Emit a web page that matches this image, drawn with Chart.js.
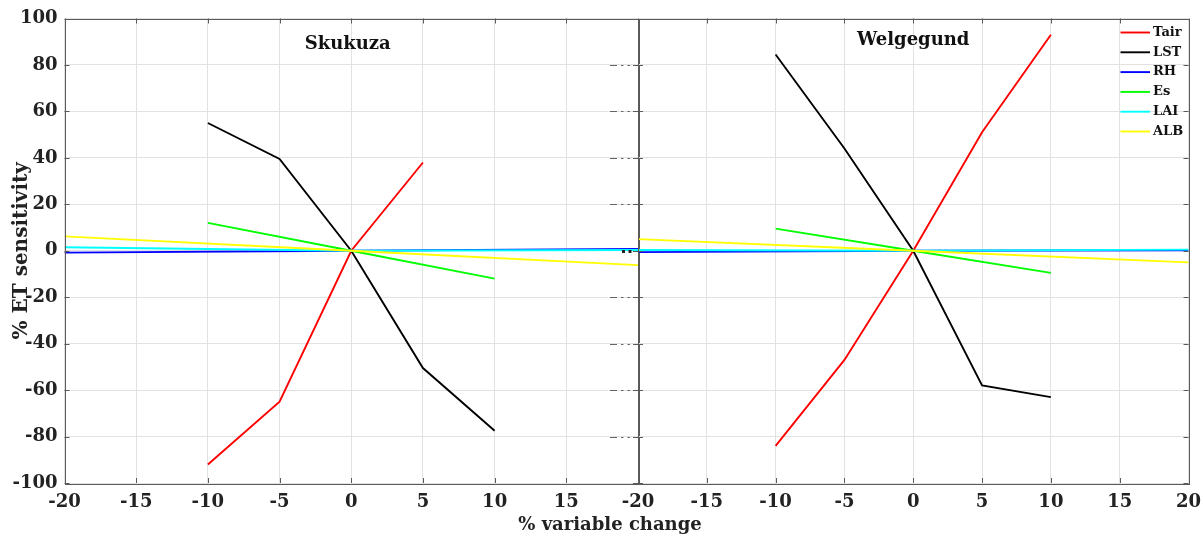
<!DOCTYPE html>
<html><head><meta charset="utf-8">
<script src="https://cdn.jsdelivr.net/npm/chart.js@4.4.0/dist/chart.umd.min.js"></script>
<style>
html,body{margin:0;padding:0;background:#fff;}
#wrap{position:relative;width:1203px;height:536px;overflow:hidden;background:#fff;}
canvas{position:absolute;top:0;}
#c1{left:0;}
#c2{left:600px;}
#xt{position:absolute;left:410px;width:400px;top:512px;text-align:center;font:bold 18px "DejaVu Serif";color:#222;line-height:24px;white-space:nowrap;}
</style></head>
<body>
<div id="wrap">
<canvas id="c1" width="700" height="536" style="width:700px;height:536px"></canvas>
<canvas id="c2" width="660" height="536" style="width:660px;height:536px"></canvas>
<div id="xt">% variable change</div>
</div>
<script>
// ---- data ----
const seriesNames  = ['Tair','LST','RH','Es','LAI','ALB'];
const seriesColors = ['#ff0000','#000000','#0000ff','#00ff00','#00ffff','#ffff00'];
const xTicks = [-20,-15,-10,-5,0,5,10,15,20];
const yTicks = [-100,-80,-60,-40,-20,0,20,40,60,80,100];
const panelTitles = ['Skukuza','Welgegund'];

// Skukuza
const skTairX = [-10,-5,0,5];        const skTairY = [-92,-65,0,38];
const skLstX  = [-10,-5,0,5,10];     const skLstY  = [55,39.5,0,-50.5,-77.5];
const skRhX   = [-20,0,20];          const skRhY   = [-0.8,0,0.8];
const skEsX   = [-10,0,10];          const skEsY   = [12,0,-12];
const skLaiX  = [-20,0,20];          const skLaiY  = [1.5,0,0.3];
const skAlbX  = [-20,0,20];          const skAlbY  = [6.2,0,-6.2];

// Welgegund
const wgTairX = [-10,-5,0,5,10];     const wgTairY = [-84,-47,0,51,93];
const wgLstX  = [-10,-5,0,5,10];     const wgLstY  = [84.5,44,0,-58,-63];
const wgRhX   = [-20,0,20];          const wgRhY   = [-0.6,0,0.2];
const wgEsX   = [-10,0,10];          const wgEsY   = [9.5,0,-9.5];
const wgLaiX  = [-20,0,20];          const wgLaiY  = [0.3,0,0.5];
const wgAlbX  = [-20,0,20];          const wgAlbY  = [5,0,-5];

// ---- styling ----
const FONT = '"DejaVu Serif", serif';
const TXT = '#222';
const GRID = '#e2e2e2';
const AXIS = '#5a5a5a';

function makeDatasets(xs, ys){
  return seriesNames.map((name,i)=>({
    label:name,
    data: xs[i].map((x,j)=>({x:x,y:ys[i][j]})),
    borderColor: seriesColors[i],
    backgroundColor: seriesColors[i],
    borderWidth: 1.9,
    pointRadius: 0,
    fill: false,
    tension: 0,
    order: seriesNames.length - i
  }));
}

const boxPlugin = {
  id:'boxTicks',
  afterDraw(chart){
    const {ctx, chartArea:a, scales} = chart;
    ctx.save();
    ctx.strokeStyle = AXIS; ctx.lineWidth = 1;
    ctx.strokeRect(Math.round(a.left)+0.5, Math.round(a.top)+0.5, Math.round(a.right-a.left), Math.round(a.bottom-a.top));
    const L = 5;
    ctx.beginPath();
    xTicks.forEach(v=>{
      const px = Math.round(scales.x.getPixelForValue(v))+0.5;
      ctx.moveTo(px, a.bottom); ctx.lineTo(px, a.bottom-L);
      ctx.moveTo(px, a.top); ctx.lineTo(px, a.top+L);
    });
    yTicks.forEach(v=>{
      const py = Math.round(scales.y.getPixelForValue(v))+0.5;
      ctx.moveTo(a.left, py); ctx.lineTo(a.left+L, py);
      ctx.moveTo(a.right, py); ctx.lineTo(a.right-L, py);
    });
    ctx.stroke();
    // panel title
    const po = chart.options.plugins.panelTitle;
    ctx.fillStyle = '#111';
    ctx.font = 'bold 18px ' + FONT;
    ctx.textAlign = 'center'; ctx.textBaseline = 'middle';
    ctx.fillText(po.text, scales.x.getPixelForValue(po.x), scales.y.getPixelForValue(po.y));
    ctx.restore();
  }
};

const legendPlugin = {
  id:'sideLegend',
  afterDraw(chart){
    if(!chart.options.plugins.sideLegend.show) return;
    const {ctx, chartArea:a} = chart;
    ctx.save();
    ctx.font = 'bold 13px ' + FONT;
    ctx.textAlign = 'left'; ctx.textBaseline = 'middle';
    chart.data.datasets.forEach((ds,i)=>{
      const y = a.top + 14 + i*19.8;
      ctx.strokeStyle = ds.borderColor; ctx.lineWidth = 1.9;
      ctx.beginPath(); ctx.moveTo(a.right-68, y); ctx.lineTo(a.right-38.5, y); ctx.stroke();
      ctx.fillStyle = '#111';
      ctx.fillText(ds.label, a.right-35.5, y);
    });
    // garbled tick marks left of the right panel
    ctx.strokeStyle = '#666'; ctx.lineWidth = 1;
    const sy = chart.scales.y;
    const segs = [[-28,-21],[-17,-14.5],[-10.5,-8]];
    yTicks.forEach(v=>{
      if (v===100 || v===-100) return;
      const py = Math.round(sy.getPixelForValue(v))+0.5;
      if (v===0){
        ctx.fillStyle = '#222';
        ctx.fillRect(a.left-16, py-1.5, 3, 3);
        ctx.fillRect(a.left-9.5, py-1.5, 3, 3);
        return;
      }
      ctx.beginPath();
      segs.forEach(s=>{ctx.moveTo(a.left+s[0], py); ctx.lineTo(a.left+s[1], py);});
      ctx.stroke();
    });
    ctx.restore();
  }
};

function makeOptions(isLeft){
  return {
    responsive:false, animation:false, devicePixelRatio:1,
    layout:{autoPadding:false, padding:{left:0, right: isLeft ? 62 : 71.5, top:18.5, bottom:0}},
    plugins:{
      legend:{display:false}, tooltip:{enabled:false},
      panelTitle: isLeft ? {text:panelTitles[0], x:-0.25, y:88.8} : {text:panelTitles[1], x:0, y:90.5},
      sideLegend:{show:!isLeft}
    },
    scales:{
      x:{
        type:'linear', min:xTicks[0], max:xTicks[xTicks.length-1],
        afterBuildTicks:s=>{s.ticks = xTicks.map(v=>({value:v}));},
        afterFit:s=>{s.height = 53;},
        grid:{color:GRID, lineWidth:1, drawTicks:false},
        border:{display:false},
        ticks:{
          autoSkip:false, maxRotation:0, padding:9, color:TXT,
          font:{family:FONT, size:18, weight:'bold'},
          callback:(v)=> (isLeft && v===20) ? '' : String(v)
        }
      },
      y:{
        type:'linear', min:yTicks[0], max:yTicks[yTicks.length-1],
        afterBuildTicks:s=>{s.ticks = yTicks.map(v=>({value:v}));},
        afterFit:s=>{s.width = isLeft ? 64.5 : 38;},
        grid:{color:GRID, lineWidth:1, drawTicks:false},
        border:{display:false},
        ticks:{
          display:isLeft, padding:7, color:TXT,
          font:{family:FONT, size:18, weight:'bold'}
        },
        title:{
          display:isLeft, text:'% ET sensitivity', color:TXT,
          font:{family:FONT, size:20, weight:'bold'},
          padding:{top:9.5, bottom:0}
        }
      }
    }
  };
}

new Chart(document.getElementById('c1'), {
  type:'line',
  data:{datasets: makeDatasets(
    [skTairX, skLstX, skRhX, skEsX, skLaiX, skAlbX],
    [skTairY, skLstY, skRhY, skEsY, skLaiY, skAlbY])},
  options: makeOptions(true),
  plugins:[boxPlugin]
});

new Chart(document.getElementById('c2'), {
  type:'line',
  data:{datasets: makeDatasets(
    [wgTairX, wgLstX, wgRhX, wgEsX, wgLaiX, wgAlbX],
    [wgTairY, wgLstY, wgRhY, wgEsY, wgLaiY, wgAlbY])},
  options: makeOptions(false),
  plugins:[boxPlugin, legendPlugin]
});
</script>
</body></html>
